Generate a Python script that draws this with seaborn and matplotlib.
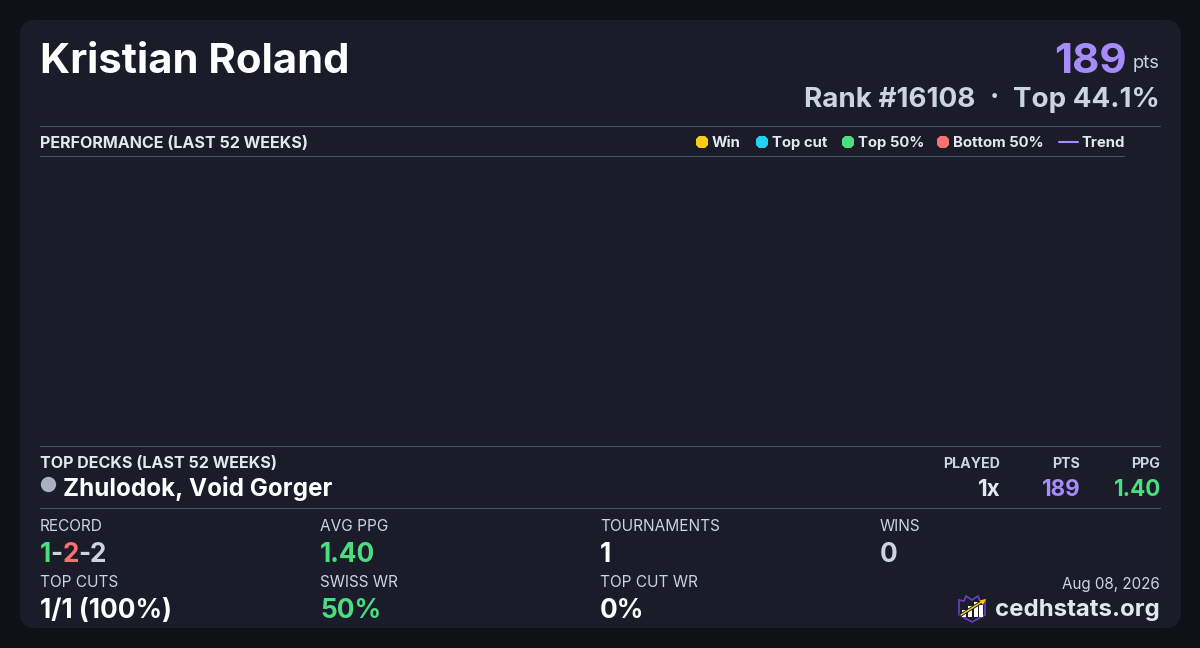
import matplotlib
matplotlib.use("Agg")
import matplotlib.pyplot as plt
from matplotlib.patches import FancyBboxPatch, Polygon, Rectangle
import pandas as pd
import seaborn as sns

# card data
player = "Kristian Roland"
points = "189"
rank_text = "Rank #16108"
top_text = "Top 44.1%"
footer_date = "Aug 08, 2026"
site = "cedhstats.org"

# chart is empty for this player
week = []
ppg = []
result = []

legend_labels = ["Win", "Top cut", "Top 50%", "Bottom 50%"]
legend_colors = ["#facc15", "#22d3ee", "#4ade80", "#f87171"]
legend_x = [702, 761.5, 847.5, 943]

deck_name = "Zhulodok, Void Gorger"
deck_played = "1x"
deck_pts = "189"
deck_ppg = "1.40"

stat_labels = ["AVG PPG", "TOURNAMENTS", "WINS", "TOP CUTS", "SWISS WR", "TOP CUT WR"]
stat_values = ["1.40", "1", "0", "1/1 (100%)", "50%", "0%"]
stat_colors = ["#4ade80", "#ffffff", "#cbd5e1", "#ffffff", "#4ade80", "#ffffff"]
stat_x = [320, 600, 880, 40, 320, 600]
stat_y = [525, 525, 525, 581, 581, 581]
record = ["1", "-", "2", "-", "2"]
record_colors = ["#4ade80", "#cbd5e1", "#f87171", "#cbd5e1", "#cbd5e1"]

BG = "#0f1117"
CARD = "#1a1d29"
LINE = "#475569"
WHITE = "#ffffff"
LIGHT = "#e2e8f0"
MUTED = "#cbd5e1"
PURPLE = "#a78bfa"

sns.set_theme(style="dark")
plt.rcParams["font.family"] = ["Inter", "DejaVu Sans"]

fig = plt.figure(figsize=(12, 6.48), dpi=100, facecolor=BG)
bg = fig.add_axes([0, 0, 1, 1])
bg.set_xlim(0, 1200)
bg.set_ylim(648, 0)
bg.axis("off")


def txt(x, y, s, px, color, weight="normal", ha="left"):
    return bg.text(x, y, s, fontsize=px * 0.72, color=color, fontweight=weight,
                   ha=ha, va="baseline")


bg.add_patch(FancyBboxPatch((20, 20), 1161, 608, boxstyle="round,pad=0,rounding_size=16",
                            fc=CARD, ec="none", mutation_aspect=1))

# performance chart
ax = fig.add_axes([40 / 1200, 1 - 446 / 648, 1085 / 1200, 289 / 648])
plot_df = pd.DataFrame({"week": week, "ppg": ppg, "result": result})
sns.scatterplot(data=plot_df, x="week", y="ppg", ax=ax, legend=False)
ax.set_xlabel("")
ax.set_ylabel("")
ax.set_xticks([])
ax.set_yticks([])
ax.grid(False)
ax.patch.set_visible(False)
for s in ax.spines.values():
    s.set_visible(False)

# header
txt(40, 73, player, 41.8, WHITE, "bold")
txt(1127, 73, points, 42, PURPLE, "bold", "right")
txt(1160, 68, "pts", 18.4, MUTED, "normal", "right")
txt(804, 107, rank_text, 27.8, MUTED, "bold")
txt(994, 106, "·", 28, MUTED, "bold", "center")
txt(1160, 107, top_text, 27.8, MUTED, "bold", "right")

# rules
for x1, y in zip([1160, 1124, 1160, 1160], [125.5, 155.5, 445.5, 507.5]):
    bg.plot([40, x1], [y, y], color=LINE, lw=0.72)

# legend row
txt(40, 148, "PERFORMANCE (LAST 52 WEEKS)", 16.1, LIGHT, "bold")
for lab, col, x in zip(legend_labels, legend_colors, legend_x):
    bg.plot([x], [141.7], "8", ms=10, color=col, mew=0)
    txt(x + 10, 147, lab, 14.9, LIGHT, "bold")
bg.plot([1059, 1078], [141.5, 141.5], color=PURPLE, lw=1.5)
txt(1081, 147, "Trend", 14.9, LIGHT, "bold")

# top decks
txt(40, 468, "TOP DECKS (LAST 52 WEEKS)", 16.1, LIGHT, "bold")
bg.plot([48], [484], "o", ms=11, color="#a8b0c4", mew=0)
txt(63, 496, deck_name, 24.2, WHITE, "bold")
txt(1000, 467.5, "PLAYED", 14.2, MUTED, "bold", "right")
txt(1080, 467.5, "PTS", 14.2, MUTED, "bold", "right")
txt(1160, 467.5, "PPG", 14.2, MUTED, "bold", "right")
txt(1001, 496, deck_played, 22.4, LIGHT, "bold", "right")
txt(1081, 496, deck_pts, 22.4, PURPLE, "bold", "right")
txt(1161, 496, deck_ppg, 22.4, "#4ade80", "bold", "right")

# stats
txt(40, 531, "RECORD", 15.4, MUTED)
fig.canvas.draw()
rend = fig.canvas.get_renderer()
x = 40
for part, col in zip(record, record_colors):
    t = txt(x, 562, part, 26.2, col, "bold")
    x += t.get_window_extent(rend).width - 0.5
for lab, val, col, sx, sy in zip(stat_labels, stat_values, stat_colors, stat_x, stat_y):
    txt(sx, sy + 6, lab, 15.4, MUTED)
    txt(sx, sy + 37, val, 26.2, col, "bold")

# footer
txt(1160, 589, footer_date, 15.2, MUTED, "normal", "right")
txt(1160, 616, site, 24, LIGHT, "bold", "right")

# logo
bg.add_patch(Polygon([(959, 600), (964, 601), (966, 596), (972, 600), (978, 596), (980, 601),
                      (985, 600), (985, 615), (972, 622), (959, 615)],
                     closed=True, fc="#1a1d29", ec="#6d3fc4", lw=1.2))
for bx, by in zip([962, 968, 974, 979], [610, 606, 602, 605]):
    bg.add_patch(Rectangle((bx, by), 3.5, 617 - by, fc=WHITE, ec="none"))
bg.plot([961, 983], [615, 601], color="#111318", lw=2.4, solid_capstyle="round", zorder=4)
bg.plot([961, 983], [615, 601], color="#facc15", lw=1.1, solid_capstyle="round", zorder=5)
bg.add_patch(Polygon([(986, 599), (979.5, 600.5), (983, 605)], closed=True, fc="#facc15",
                     ec="none", zorder=6))

fig.savefig("out.png", dpi=100, facecolor=BG)
